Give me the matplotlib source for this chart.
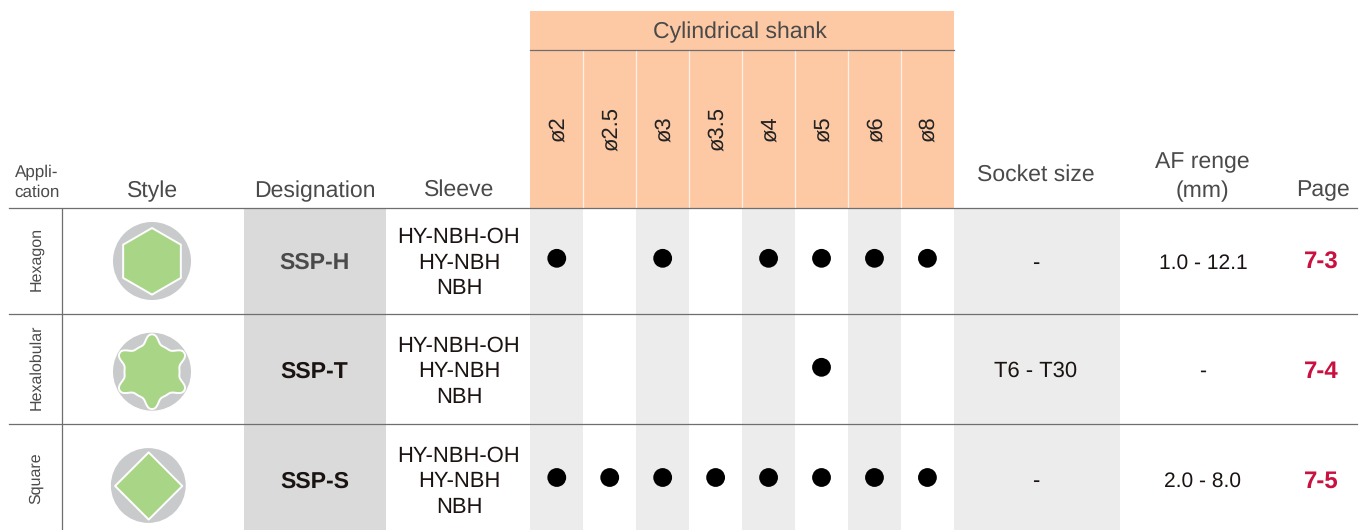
import numpy as np
import matplotlib
matplotlib.use('Agg')
import matplotlib.pyplot as plt
from matplotlib.patches import Rectangle, Circle, Polygon

plt.rcParams['font.family'] = ['Liberation Sans', 'DejaVu Sans']
plt.rcParams['text.hinting'] = 'none'
plt.rcParams['text.hinting_factor'] = 1

applications = ['Hexagon', 'Hexalobular', 'Square']
designations = ['SSP-H', 'SSP-T', 'SSP-S']
sleeves = ['HY-NBH-OH\nHY-NBH\nNBH'] * 3
shank_sizes = ['ø2', 'ø2.5', 'ø3', 'ø3.5', 'ø4', 'ø5', 'ø6', 'ø8']
socket_sizes = ['-', 'T6 - T30', '-']
af_ranges = ['1.0 - 12.1', '-', '2.0 - 8.0']
pages = ['7-3', '7-4', '7-5']

# 1 = a dot in that shank column
hexagon_dots = [1, 0, 1, 0, 1, 1, 1, 1]
hexalobular_dots = [0, 0, 0, 0, 0, 1, 0, 0]
square_dots = [1, 1, 1, 1, 1, 1, 1, 1]

ORANGE = '#fdc9a4'
LIGHT = '#ececec'
MID = '#dadada'
LINE = '#6e6e6e'
HEAD = '#4a4a4a'
DARK = '#1a1311'
GREEN = '#a8d586'
DISC = '#c9cacc'
RED = '#c9103f'

fig = plt.figure(figsize=(13.63, 5.30), dpi=100)
ax = fig.add_axes([0, 0, 1, 1])
# axes in pixels, y going down
ax.set_xlim(0, 1363)
ax.set_ylim(530, 0)
ax.axis('off')

shank_left = 530.3
col_w = 52.95
row_mid = [263, 371.5, 481.5]
dot_y = [258.3, 367.3, 477.5]
app_y = [259, 367, 478.5]
app_size = [11.5, 11.3, 11.5]


def band(x0, x1, y0, y1, color):
    ax.add_patch(Rectangle((x0, y0), x1 - x0, y1 - y0, fc=color, ec='none', zorder=1))


def label(x, y, s, size=15.5, color=DARK, **kw):
    ax.text(x, y, s, fontsize=size, color=color, ha=kw.pop('ha', 'center'),
            va=kw.pop('va', 'center'), zorder=5, **kw)


# backgrounds
band(shank_left, shank_left + 8 * col_w, 11, 208, ORANGE)
band(244, 386, 208, 530, MID)
band(953.5, 1120, 208, 530, LIGHT)
for i in range(0, 8, 2):
    band(shank_left + i * col_w, shank_left + (i + 1) * col_w, 208, 530, LIGHT)

# white separators in the header
for i in range(1, 8):
    x = shank_left + i * col_w
    ax.plot([x, x], [50, 208], color='#fdf0e6', lw=0.9, zorder=2)

# rules
ax.plot([530, 954], [49.5, 49.5], color=LINE, lw=0.9, zorder=3)
for y in [208.5, 314.5, 424.5]:
    ax.plot([9, 1357], [y - 0.2, y - 0.2], color=LINE, lw=0.9, zorder=3)
ax.plot([61.7, 61.7], [208.5, 530], color=LINE, lw=0.9, zorder=3)

# header text
label(740, 32.5, 'Cylindrical shank', size=16.8, color=HEAD)
label(36.5, 182, 'Appli-\ncation', size=12.6, color=HEAD, linespacing=1.38)
label(153, 191.5, 'Style', size=16.8, color=HEAD)
label(315, 191, 'Designation', size=16.9, color=HEAD)
label(459, 190, 'Sleeve', size=16.6, color=HEAD)
label(1036, 174.5, 'Socket size', size=16.6, color=HEAD)
label(1202, 177, 'AF renge\n(mm)', size=16.3, color=HEAD, linespacing=1.42)
label(1323, 190.5, 'Page', size=16.6, color=HEAD)
for i, s in enumerate(shank_sizes):
    label(shank_left + (i + 0.5) * col_w + 1.5, 129, s, size=15.6, color='#222222', rotation=90)

# body text
for r in range(3):
    label(36, app_y[r], applications[r], size=app_size[r], color=HEAD, rotation=90)
    label(314.5, row_mid[r], designations[r], size=16.6, weight='bold',
          color=HEAD if r == 0 else DARK)
    label(459, row_mid[r], sleeves[r], size=15.8, linespacing=1.31)
    label(1036, row_mid[r], socket_sizes[r], size=15.5)
    label(1203, row_mid[r], af_ranges[r], size=15)
    label(1321, row_mid[r], pages[r], size=17.3, weight='bold', color=RED)

# dots
for r, row in enumerate([hexagon_dots, hexalobular_dots, square_dots]):
    for i, on in enumerate(row):
        if on:
            ax.add_patch(Circle((shank_left + (i + 0.5) * col_w, dot_y[r]), 9.4,
                                fc='black', ec='none', zorder=4))


def icon(cx, cy, disc_r, pts):
    ax.add_patch(Circle((cx, cy), disc_r, fc=DISC, ec='none', zorder=4))
    ax.add_patch(Polygon(pts, closed=True, fc=GREEN, ec='white', lw=1.4,
                         joinstyle='round', zorder=5))


# hexagon
ang = np.radians(90 + 60 * np.arange(6))
icon(152, 261, 39, np.c_[152 + 33.3 * np.cos(ang), 261.3 + 33.3 * np.sin(ang)])

# hexalobular: rounded lobes, wide concave valleys
deg = np.arange(0, 360, 0.5)
d = np.abs((deg - 90 + 30) % 60 - 30)
rad = 27.5 + 9.8 * np.exp(-(d / 12.5) ** 2.6)
t = np.radians(deg)
icon(152, 371.7, 39, np.c_[152 + rad * np.cos(t), 371.7 + rad * np.sin(t)])

# square on its corner
ang = np.radians(90 * np.arange(4))
icon(148.3, 485.5, 37.4, np.c_[148.7 + 33.6 * np.cos(ang), 486 + 33.6 * np.sin(ang)])

fig.savefig('out.png', dpi=100, facecolor='white')
